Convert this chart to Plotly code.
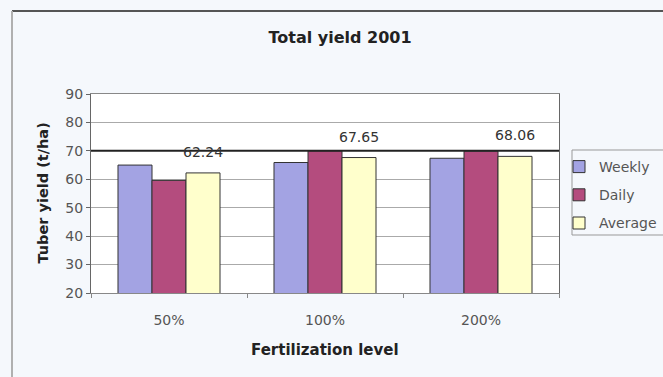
import plotly.graph_objects as go

# Fertilization levels and yields (t/ha) per sampling scheme
levels = ["50%", "100%", "200%"]
weekly = [65.0, 65.9, 67.4]
daily = [59.6, 70.0, 69.9]
average = [62.24, 67.65, 68.06]

series_names = ["Weekly", "Daily", "Average"]
series_values = [weekly, daily, average]
series_colors = ["#a3a3e3", "#b44c7e", "#ffffcc"]

W, H = 663, 377
ML, MR, MT, MB = 91, 104, 94, 84
BARGAP = 0.346
FONT = "DejaVu Sans, Arial, sans-serif"

fig = go.Figure()
for i, (name, vals, col) in enumerate(zip(series_names, series_values, series_colors)):
    fig.add_trace(go.Bar(
        x=levels, y=vals, name=name, legendgroup=name,
        marker=dict(color=col, line=dict(color="#333333", width=1)),
    ))

plot_w = W - ML - MR
plot_h = H - MT - MB


def px_x(px):
    return (px - ML) / plot_w


def px_y(py):
    return (H - MB - py) / plot_h


# value labels above the Average bars
cat_w = plot_w / len(levels)
bar_w = cat_w * (1 - BARGAP) / 3
for lvl, v in zip(levels, average):
    fig.add_annotation(
        x=lvl, y=v, xref="x", yref="y", text=f"{v:.2f}", showarrow=False,
        xshift=bar_w, yshift=21, yanchor="middle",
        font=dict(family=FONT, size=14, color="#333333"),
    )

# axis titles
fig.add_annotation(
    x=px_x(325), y=px_y(350), xref="paper", yref="paper",
    text="<b>Fertilization level</b>", showarrow=False,
    xanchor="center", yanchor="middle", font=dict(family=FONT, size=15, color="#222222"),
)
fig.add_annotation(
    x=px_x(42), y=0.5, xref="paper", yref="paper",
    text="<b>Tuber yield (t/ha)</b>", showarrow=False, textangle=-90,
    xanchor="center", yanchor="middle", font=dict(family=FONT, size=14.5, color="#222222"),
)

# chart-area frame (top and left edges)
fig.add_shape(type="line", xref="paper", yref="paper",
              x0=px_x(12), x1=px_x(W), y0=px_y(11), y1=px_y(11),
              line=dict(color="#555555", width=2))
fig.add_shape(type="line", xref="paper", yref="paper",
              x0=px_x(12), x1=px_x(12), y0=px_y(11), y1=px_y(H),
              line=dict(color="#b0b0b0", width=2))
# legend box
fig.add_shape(type="rect", xref="paper", yref="paper",
              x0=px_x(572), x1=px_x(W + 30), y0=px_y(150), y1=px_y(235),
              line=dict(color="#999999", width=1), fillcolor="rgba(0,0,0,0)")
# reference line at 70 t/ha
fig.add_shape(type="line", xref="paper", yref="y", x0=0, x1=1, y0=70, y1=70,
              line=dict(color="#222222", width=2), layer="above")

fig.update_layout(
    width=W, height=H,
    margin=dict(l=ML, r=MR, t=MT, b=MB, autoexpand=False),
    paper_bgcolor="#f5f8fc", plot_bgcolor="#ffffff",
    barmode="group", bargap=BARGAP, bargroupgap=0,
    title=dict(text="<b>Total yield 2001</b>", x=340 / W, xanchor="center",
               y=1 - 37 / H, yanchor="middle", yref="container",
               font=dict(family=FONT, size=16, color="#222222")),
    font=dict(family=FONT, size=12, color="#444444"),
    showlegend=True,
    legend=dict(x=px_x(559), y=px_y(151), xanchor="left", yanchor="top",
                borderwidth=0, bgcolor="rgba(0,0,0,0)", tracegroupgap=7, itemwidth=30,
                font=dict(family=FONT, size=14, color="#555555")),
    xaxis=dict(showline=True, linecolor="#888888", linewidth=1, mirror=True,
               ticks="outside", tickson="boundaries", ticklen=4, tickcolor="#888888",
               ticklabelstandoff=14,
               showgrid=False, tickfont=dict(family=FONT, size=14, color="#555555")),
    yaxis=dict(range=[20, 90], dtick=10, showline=True, linecolor="#666666", linewidth=1,
               mirror=True, ticks="outside", ticklen=4, tickcolor="#666666",
               gridcolor="#aaaaaa", gridwidth=1, zeroline=False,
               tickfont=dict(family=FONT, size=14, color="#555555")),
)

fig.write_html("out.html")
